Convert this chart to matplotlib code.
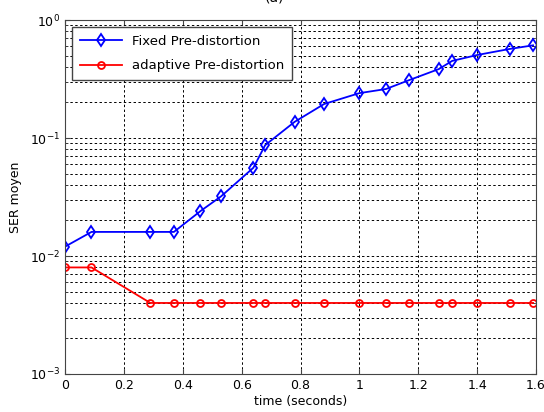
import numpy as np
import matplotlib.pyplot as plt

t = [0, 0.09, 0.29, 0.37, 0.46, 0.53, 0.64, 0.68, 0.78, 0.88, 1.0, 1.09, 1.17, 1.27, 1.315, 1.4, 1.51, 1.59]
ser_fixed = [0.012, 0.016, 0.016, 0.016, 0.024, 0.032, 0.056, 0.087, 0.137, 0.194, 0.24, 0.26, 0.31,
             0.384, 0.45, 0.505, 0.568, 0.61]
ser_adapt = [0.008, 0.008, 0.004, 0.004, 0.004, 0.004, 0.004, 0.004, 0.004, 0.004, 0.004, 0.004, 0.004,
             0.004, 0.004, 0.004, 0.004, 0.004]

fig = plt.figure(figsize=(5.44, 4.12), dpi=100)
ax = fig.add_axes([65/544, 1-374/412, 471/544, 354/412])

ax.semilogy(t, ser_fixed, 'b-d', lw=1.3, ms=6, mfc='none', mew=1.3, label='Fixed Pre-distortion')
ax.semilogy(t, ser_adapt, 'r-o', lw=1.3, ms=5, mfc='none', mew=1.3, label='adaptive Pre-distortion')

ax.set_xlim(0, 1.6)
ax.set_ylim(1e-3, 1)
ax.set_xticks(np.arange(0, 1.61, 0.2))
ax.set_xticklabels(['0', '0.2', '0.4', '0.6', '0.8', '1', '1.2', '1.4', '1.6'])
ax.grid(True, which='major', linestyle=(0, (2.5, 2.5)), color='black', lw=0.7)
ax.yaxis.grid(True, which='minor', linestyle=(0, (2.5, 2.5)), color='black', lw=0.7)
ax.tick_params(which='both', direction='in', top=True, right=True, labelsize=9, color='#444444')
for s in ax.spines.values():
    s.set_color('#444444')

ax.set_xlabel('time (seconds)', fontsize=9, labelpad=2)
ax.set_ylabel('SER moyen', fontsize=9, labelpad=6)

leg = ax.legend(loc='upper left', fontsize=9.5, fancybox=False, framealpha=1, edgecolor='#444444',
                borderaxespad=0.5, handlelength=3.2, labelspacing=0.9, borderpad=0.6)
leg.get_frame().set_linewidth(1.0)

fig.text(275/544, 1.005, '(a)', ha='center', va='center', fontsize=10)

fig.savefig('out.png', dpi=100)
